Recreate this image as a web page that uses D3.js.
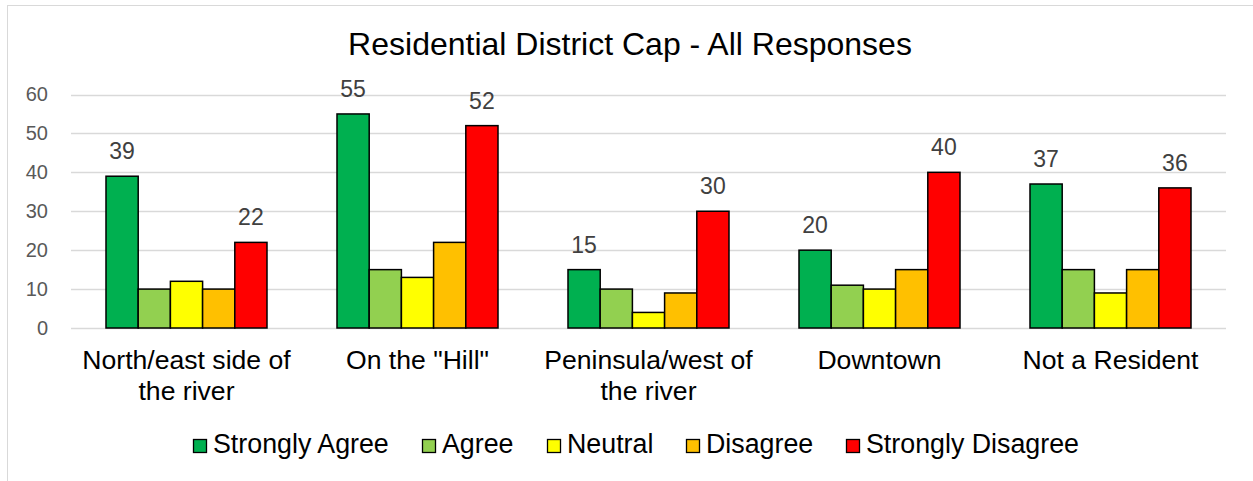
<!DOCTYPE html>
<html>
<head>
<meta charset="utf-8">
<script src="https://cdn.jsdelivr.net/npm/d3@7"></script>
<style>
  html, body { margin: 0; padding: 0; background: #fff; }
  svg { display: block; font-family: "Liberation Sans", Arial, sans-serif; }
</style>
</head>
<body>
<svg id="chart" width="1253" height="481"></svg>
<script>
// Survey responses per district
const categories = [
  ["North/east side of", "the river"],
  ["On the \"Hill\""],
  ["Peninsula/west of", "the river"],
  ["Downtown"],
  ["Not a Resident"]
];
const seriesNames = ["Strongly Agree", "Agree", "Neutral", "Disagree", "Strongly Disagree"];
const seriesColors = ["#00b050", "#92d050", "#ffff00", "#ffc000", "#ff0000"];
const stronglyAgree    = [39, 55, 15, 20, 37];
const agree            = [10, 15, 10, 11, 15];
const neutral          = [12, 13, 4, 10, 9];
const disagree         = [10, 22, 9, 15, 15];
const stronglyDisagree = [22, 52, 30, 40, 36];
const yTicks = [0, 10, 20, 30, 40, 50, 60];
const labelledSeries = [0, 4];

const series = [stronglyAgree, agree, neutral, disagree, stronglyDisagree];

const svg = d3.select("#chart");

// chart frame
svg.append("rect")
  .attr("x", 7.5).attr("y", 5.5)
  .attr("width", 1260).attr("height", 490)
  .attr("fill", "#fff").attr("stroke", "#d9d9d9").attr("stroke-width", 1);

const plot = { left: 71, right: 1226, top: 94.5, bottom: 328 };

const x0 = d3.scaleBand()
  .domain(d3.range(categories.length))
  .range([plot.left, plot.right])
  .paddingInner(0.303).paddingOuter(0.1515);

const x1 = d3.scaleBand()
  .domain(d3.range(series.length))
  .range([0, x0.bandwidth()]);

const y = d3.scaleLinear().domain([0, 60]).range([plot.bottom, plot.top]);

// title
svg.append("text")
  .attr("x", 630).attr("y", 55)
  .attr("text-anchor", "middle")
  .attr("font-size", 32)
  .attr("fill", "#000")
  .text("Residential District Cap - All Responses");

// gridlines
svg.append("g")
  .selectAll("line")
  .data(yTicks)
  .join("line")
  .attr("x1", plot.left).attr("x2", plot.right)
  .attr("y1", d => Math.round(y(d)) + 0.5)
  .attr("y2", d => Math.round(y(d)) + 0.5)
  .attr("stroke", "#d9d9d9").attr("stroke-width", 1.5);

// y axis labels
const yAxis = d3.axisLeft(y).tickValues(yTicks).tickSize(0).tickPadding(0);
const gy = svg.append("g")
  .attr("transform", `translate(${48},0)`)
  .call(yAxis);
gy.select(".domain").remove();
gy.selectAll("text")
  .attr("font-family", "Liberation Sans, Arial, sans-serif")
  .attr("font-size", 20)
  .attr("fill", "#595959");

// bars
const groups = svg.append("g")
  .selectAll("g")
  .data(categories.map((c, i) => i))
  .join("g")
  .attr("transform", i => `translate(${x0(i)},0)`);

groups.selectAll("rect")
  .data(i => series.map((s, k) => ({ k, v: s[i] })))
  .join("rect")
  .attr("x", d => x1(d.k))
  .attr("y", d => y(d.v))
  .attr("width", x1.bandwidth())
  .attr("height", d => y(0) - y(d.v))
  .attr("fill", d => seriesColors[d.k])
  .attr("stroke", "#000")
  .attr("stroke-width", 1.5);

// value labels
groups.selectAll("text.val")
  .data(i => labelledSeries.map(k => ({ k, v: series[k][i] })))
  .join("text")
  .attr("class", "val")
  .attr("x", d => x1(d.k) + x1.bandwidth() / 2)
  .attr("y", d => y(d.v) - 17)
  .attr("text-anchor", "middle")
  .attr("font-size", 23)
  .attr("fill", "#404040")
  .text(d => d.v);

// category labels
const catG = svg.append("g");
categories.forEach((lines, i) => {
  const t = catG.append("text")
    .attr("text-anchor", "middle")
    .attr("font-size", 26.6)
    .attr("fill", "#000");
  lines.forEach((ln, j) => {
    t.append("tspan")
      .attr("x", x0(i) + x0.bandwidth() / 2)
      .attr("y", 369 + j * 30.5)
      .text(ln);
  });
});

// legend
const legendX = [193, 422, 547, 686, 846];
const legend = svg.append("g");
seriesNames.forEach((name, k) => {
  legend.append("rect")
    .attr("x", legendX[k] + 0.5).attr("y", 439.5)
    .attr("width", 13).attr("height", 13)
    .attr("fill", seriesColors[k])
    .attr("stroke", "#000").attr("stroke-width", 1.3);
  legend.append("text")
    .attr("x", legendX[k] + 20).attr("y", 453)
    .attr("font-size", 26.8)
    .attr("fill", "#000")
    .text(name);
});
</script>
</body>
</html>
